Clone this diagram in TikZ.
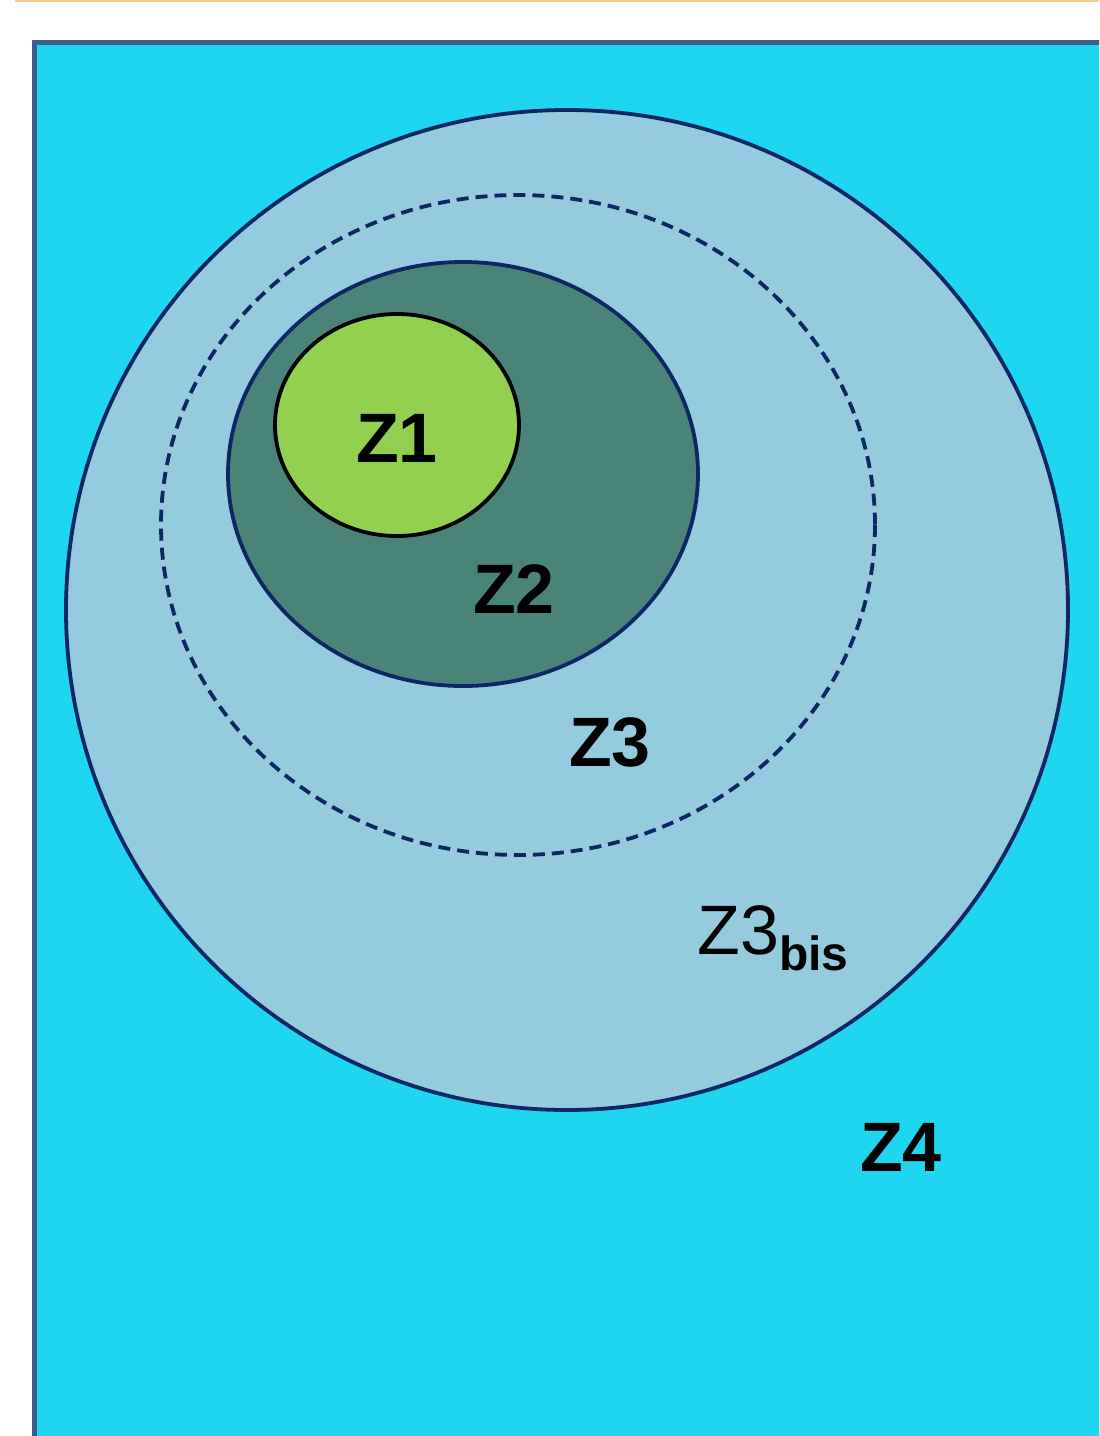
\documentclass[tikz,border=0pt]{standalone}
\usepackage{fontspec}
\setmainfont{Liberation Sans}
\usetikzlibrary{positioning}
\definecolor{sky}{RGB}{30,214,240}
\definecolor{frame}{RGB}{58,95,142}
\definecolor{haze}{RGB}{148,203,222}
\definecolor{navy}{RGB}{13,38,100}
\definecolor{teal}{RGB}{74,132,121}
\definecolor{lime}{RGB}{146,208,80}
\definecolor{peach}{RGB}{248,200,138}
\tikzset{
  zone/.style={draw=#1,line width=1.9pt},
  zone/.default=navy,
  zlabel/.style={font=\fontsize{35}{40}\selectfont\bfseries,inner sep=0pt},
}
\begin{document}
\begin{tikzpicture}[x=0.5pt,y=-0.5pt]
  \useasboundingbox (0,0) rectangle (1099,1436);
  \clip (0,0) rectangle (1099,1436);
  \draw[peach,line width=1pt] (15,1) -- (1099,1);
  % outer area Z4
  \draw[draw=frame,fill=sky,line width=2.5pt] (34,42) rectangle (1120,1460);
  % nested zones
  \draw[zone,fill=haze] (567,610) ellipse [x radius=501,y radius=500];
  \draw[zone,dash pattern=on 6pt off 3.5pt] (518,525) ellipse [x radius=357,y radius=330];
  \draw[zone,fill=teal] (463,474) ellipse [x radius=235,y radius=212];
  \draw[zone=black,fill=lime] (397,425) ellipse [x radius=122,y radius=111];
  % labels
  \node[zlabel] (z1) at (397,438) {Z1};
  \node[zlabel] (z2) at (514,589) {Z2};
  \node[zlabel] (z3) at (610,742) {Z3};
  \node[font=\fontsize{35}{40}\selectfont,inner sep=0pt,anchor=base west] (z3bis) at (697,954) {Z3\raisebox{-8pt}{\fontsize{24}{28}\selectfont\bfseries bis}};
  \node[zlabel] (z4) at (901,1147) {Z4};
\end{tikzpicture}
\end{document}
